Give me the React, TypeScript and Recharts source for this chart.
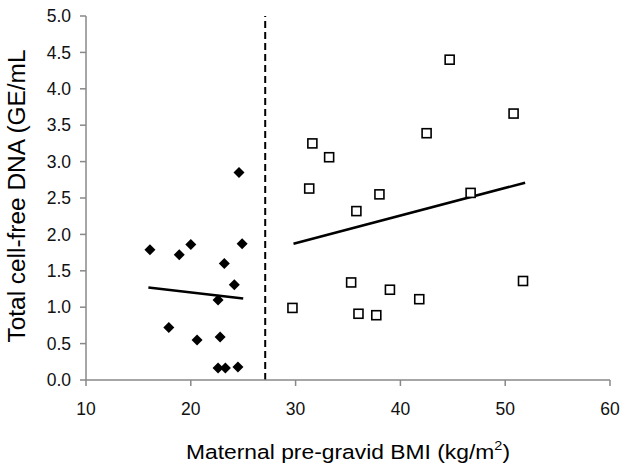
import { ScatterChart, Scatter, XAxis, YAxis, ReferenceLine } from "recharts";

// BMI < 27 group (filled diamonds)
const leanBmi = [16.1, 18.9, 20.0, 24.9, 23.2, 24.15, 22.6, 17.9, 20.6, 22.8, 22.6, 23.3, 24.5, 24.6];
const leanDna = [1.79, 1.72, 1.86, 1.87, 1.6, 1.31, 1.1, 0.72, 0.55, 0.59, 0.165, 0.165, 0.18, 2.85];

// BMI > 27 group (open squares)
const obeseBmi = [44.7, 50.8, 42.5, 31.6, 33.2, 31.3, 38.0, 35.8, 46.7, 29.7, 35.3, 39.0, 36.0, 37.7, 41.8, 51.7];
const obeseDna = [4.4, 3.66, 3.39, 3.25, 3.06, 2.63, 2.55, 2.32, 2.57, 0.99, 1.34, 1.24, 0.91, 0.89, 1.11, 1.36];

// fitted lines (end points)
const leanTrendX = [15.95, 25.0];
const leanTrendY = [1.27, 1.12];
const obeseTrendX = [29.8, 51.9];
const obeseTrendY = [1.87, 2.71];

const bmiCutoff = 27.1;
const xTicks = [10, 20, 30, 40, 50, 60];
const yTicks = [0, 0.5, 1, 1.5, 2, 2.5, 3, 3.5, 4, 4.5, 5];

const FONT = "'Liberation Sans', Arial, sans-serif";

const lean = leanBmi.map((x, i) => ({ x, y: leanDna[i] }));
const obese = obeseBmi.map((x, i) => ({ x, y: obeseDna[i] }));

const Diamond = (p: any) => {
  const { cx, cy } = p;
  const r = 5.5;
  return <polygon points={`${cx},${cy - r} ${cx + r},${cy} ${cx},${cy + r} ${cx - r},${cy}`} fill="#000" />;
};

const Square = (p: any) => {
  const { cx, cy } = p;
  return <rect x={cx - 4.5} y={cy - 4.5} width={9} height={9} fill="#fff" stroke="#000" strokeWidth={1.6} />;
};

const XLabel = (p: any) => {
  const vb = p.viewBox;
  const cx = vb.x + vb.width / 2;
  return (
    <text x={cx} y={459} textAnchor="middle" fontFamily={FONT} fontSize={20.5} fill="#000" textLength={324} lengthAdjust="spacingAndGlyphs">
      Maternal pre-gravid BMI (kg/m<tspan fontSize={13} dy={-9}>2</tspan><tspan dy={9}>)</tspan>
    </text>
  );
};

const YLabel = () => (
  <text x={25} y={196} transform="rotate(-90, 25, 196)" textAnchor="middle" fontFamily={FONT} fontSize={23} fill="#000" textLength={293} lengthAdjust="spacingAndGlyphs">
    Total cell-free DNA (GE/mL
  </text>
);

export default function App() {
  return (
    <div style={{ position: "absolute", left: 0, top: 0, background: "#fff" }}>
      <ScatterChart width={629} height={474} margin={{ top: 16, right: 19, bottom: 0, left: 0 }}>
        <XAxis
          type="number"
          dataKey="x"
          domain={[10, 60]}
          ticks={xTicks}
          allowDataOverflow
          height={94}
          stroke="#888"
          strokeWidth={1.5}
          tickSize={6}
          tickMargin={17}
          tick={{ fill: "#111", fontSize: 17.5, fontFamily: FONT }}
          label={<XLabel />}
        />
        <YAxis
          type="number"
          dataKey="y"
          domain={[0, 5]}
          ticks={yTicks}
          allowDataOverflow
          width={86}
          stroke="#888"
          strokeWidth={1.5}
          tickSize={6}
          tickMargin={9}
          tickFormatter={(v: number) => v.toFixed(1)}
          tick={{ fill: "#111", fontSize: 17.5, fontFamily: FONT }}
          label={<YLabel />}
        />
        <ReferenceLine x={bmiCutoff} stroke="#000" strokeWidth={2} strokeDasharray="7 4" />
        <ReferenceLine
          segment={[
            { x: leanTrendX[0], y: leanTrendY[0] },
            { x: leanTrendX[1], y: leanTrendY[1] },
          ]}
          stroke="#000"
          strokeWidth={2.6}
        />
        <ReferenceLine
          segment={[
            { x: obeseTrendX[0], y: obeseTrendY[0] },
            { x: obeseTrendX[1], y: obeseTrendY[1] },
          ]}
          stroke="#000"
          strokeWidth={2.6}
        />
        <Scatter data={lean} shape={Diamond} isAnimationActive={false} />
        <Scatter data={obese} shape={Square} isAnimationActive={false} />
      </ScatterChart>
    </div>
  );
}
